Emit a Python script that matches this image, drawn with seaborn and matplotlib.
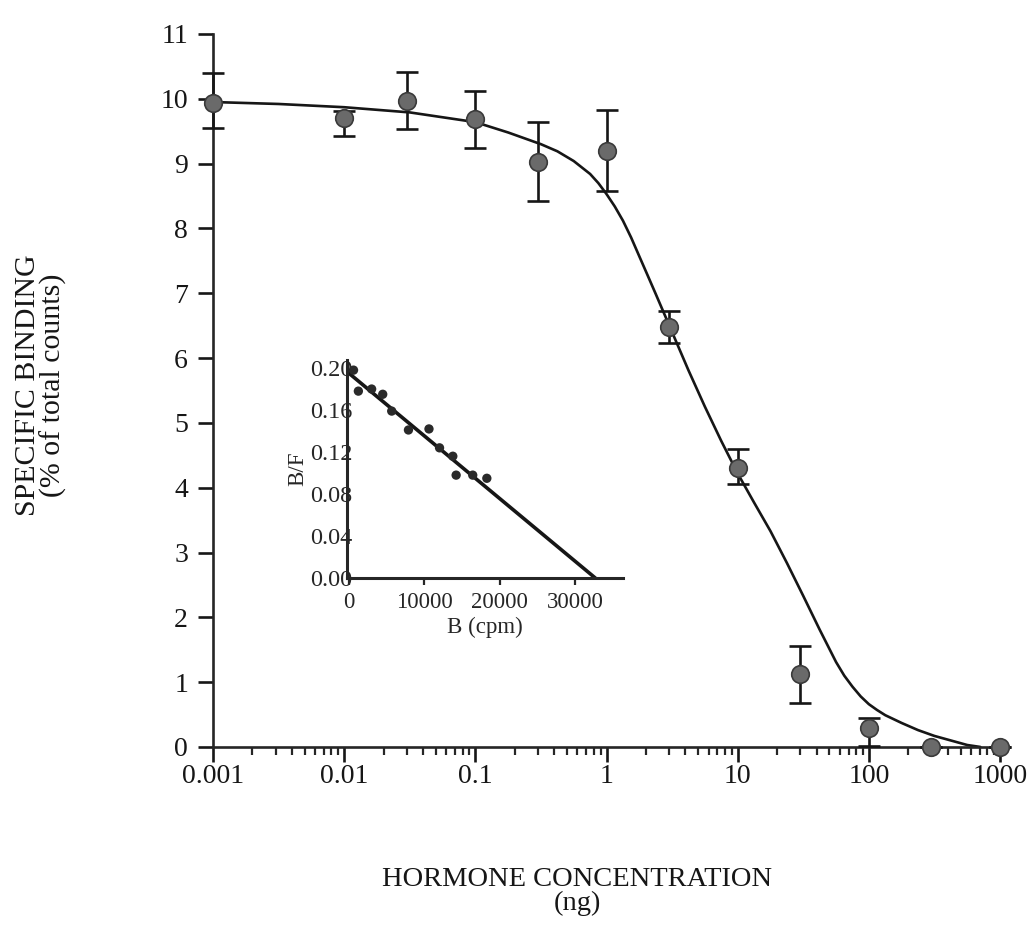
import numpy as np
import pandas as pd
import matplotlib
matplotlib.use("Agg")
import matplotlib.pyplot as plt
import matplotlib.ticker as mticker
import seaborn as sns

# -------------------------------------------------------
# DATA
# -------------------------------------------------------

# main competition curve: measured points with error bars
conc = [0.001, 0.01, 0.03, 0.1, 0.3, 1, 3, 10, 30, 100, 300, 1000]
binding = [9.94, 9.71, 9.96, 9.69, 9.03, 9.20, 6.48, 4.31, 1.13, 0.29, 0.0, 0.0]
err_low = [0.39, 0.28, 0.42, 0.45, 0.60, 0.62, 0.25, 0.25, 0.45, 0.28, 0.0, 0.0]
err_high = [0.46, 0.10, 0.46, 0.43, 0.61, 0.63, 0.25, 0.29, 0.42, 0.16, 0.0, 0.0]

# fitted curve
curve_conc = [0.001, 0.00316, 0.01, 0.0316, 0.1, 0.178, 0.316, 0.422, 0.562,
              0.750, 0.866, 1.0, 1.155, 1.334, 1.540, 1.778, 2.054, 2.371,
              3.162, 4.217, 5.623, 7.499, 10, 13.34, 17.78, 23.71, 31.62,
              42.17, 48.70, 56.23, 64.94, 74.99, 86.60, 100, 115.5, 133.4,
              154.0, 177.8, 237.1, 316.2, 562.3, 707.9]
curve_binding = [9.95, 9.92, 9.87, 9.79, 9.64, 9.48, 9.30, 9.19, 9.04,
                 8.84, 8.70, 8.53, 8.34, 8.12, 7.86, 7.57, 7.28, 6.99,
                 6.40, 5.81, 5.25, 4.72, 4.22, 3.77, 3.33, 2.84, 2.33,
                 1.81, 1.56, 1.31, 1.10, 0.93, 0.78, 0.66, 0.57, 0.49,
                 0.43, 0.37, 0.26, 0.17, 0.03, 0.0]

# Scatchard inset
scat_b = [600, 1240, 3000, 4470, 5660, 7880, 10600, 12000, 13760, 14200, 16400, 18270]
scat_bf = [0.198, 0.178, 0.180, 0.175, 0.159, 0.141, 0.142, 0.124, 0.116, 0.098, 0.098, 0.095]
fit_b = [0, 32650]
fit_bf = [0.195, 0.0]

main_df = pd.DataFrame({"conc": conc, "binding": binding})
curve_df = pd.DataFrame({"conc": curve_conc, "binding": curve_binding})
scat_df = pd.DataFrame({"B": scat_b, "BF": scat_bf})
fit_df = pd.DataFrame({"B": fit_b, "BF": fit_bf})

# -------------------------------------------------------
# STYLE
# -------------------------------------------------------

sns.set_theme(style="ticks")
plt.rcParams["font.family"] = ["Liberation Serif", "DejaVu Serif"]
plt.rcParams["axes.linewidth"] = 1.9
plt.rcParams["lines.solid_joinstyle"] = "round"

fig = plt.figure(figsize=(10.30, 9.49), dpi=100)
ax = fig.add_axes([0.2068, 0.2129, 0.7641, 0.7513])

# -------------------------------------------------------
# MAIN PLOT
# -------------------------------------------------------

sns.lineplot(data=curve_df, x="conc", y="binding", ax=ax, color="#161616",
             linewidth=1.9, zorder=2)
ax.errorbar(conc, binding, yerr=[err_low, err_high], fmt="none", ecolor="#161616",
            elinewidth=1.9, capsize=8, capthick=1.9, zorder=3, clip_on=False)
sns.scatterplot(data=main_df, x="conc", y="binding", ax=ax, s=160,
                color="#6a6a6a", edgecolor="#3a3a3a", linewidth=1.2, zorder=4,
                clip_on=False)

ax.set_xscale("log")
ax.set_xlim(0.001, 1000)
ax.set_ylim(0, 11)
ax.set_yticks(range(0, 12))
ax.xaxis.set_minor_locator(mticker.LogLocator(base=10, subs=np.arange(2, 10), numticks=20))
ax.set_xticks([0.001, 0.01, 0.1, 1, 10, 100, 1000])
ax.set_xticklabels(["0.001", "0.01", "0.1", "1", "10", "100", "1000"])
ax.xaxis.set_minor_formatter(mticker.NullFormatter())

ax.tick_params(axis="x", which="major", direction="out", length=11, width=1.9,
               labelsize=20, pad=1, colors="#161616")
ax.tick_params(axis="x", which="minor", direction="out", length=5.5, width=1.6)
ax.tick_params(axis="y", which="major", direction="out", length=11, width=1.9,
               labelsize=20, pad=7, colors="#161616")
sns.despine(ax=ax)

ax.set_xlabel("HORMONE CONCENTRATION\n(ng)", fontsize=20.5, linespacing=0.95,
              color="#161616")
ax.xaxis.set_label_coords(0.4625, -0.168)
ax.set_ylabel("SPECIFIC BINDING\n(% of total counts)", fontsize=21.5, linespacing=0.95,
              color="#161616")
ax.yaxis.set_label_coords(-0.1855, 0.508)

# -------------------------------------------------------
# SCATCHARD INSET
# -------------------------------------------------------

ins = fig.add_axes([0.3369, 0.3909, 0.2680, 0.2297])
ins.set_facecolor("white")
sns.lineplot(data=fit_df, x="B", y="BF", ax=ins, color="#161616", linewidth=2.6)
sns.scatterplot(data=scat_df, x="B", y="BF", ax=ins, s=45, color="#2a2a2a",
                edgecolor="none", zorder=3)

ins.set_xlim(-265, 36325)
ins.set_ylim(0, 0.2076)
ins.set_xticks([0, 10000, 20000, 30000])
ins.set_yticks([0.0, 0.04, 0.08, 0.12, 0.16, 0.20])
ins.yaxis.set_major_formatter(mticker.FormatStrFormatter("%.2f"))
ins.tick_params(axis="x", direction="out", length=5, width=1.6, labelsize=16.5, pad=5)
ins.tick_params(axis="y", direction="out", length=0, width=1.6, labelsize=17.5, pad=-4)
sns.despine(ax=ins)
ins.spines["left"].set_linewidth(2.2)
ins.spines["bottom"].set_linewidth(2.2)
ins.spines["left"].set_zorder(5)

ins.set_xlabel("B (cpm)", fontsize=16.5, labelpad=3)
ins.set_ylabel("B/F", fontsize=16.5, labelpad=1)

fig.savefig("out.png", dpi=100, facecolor="white")
